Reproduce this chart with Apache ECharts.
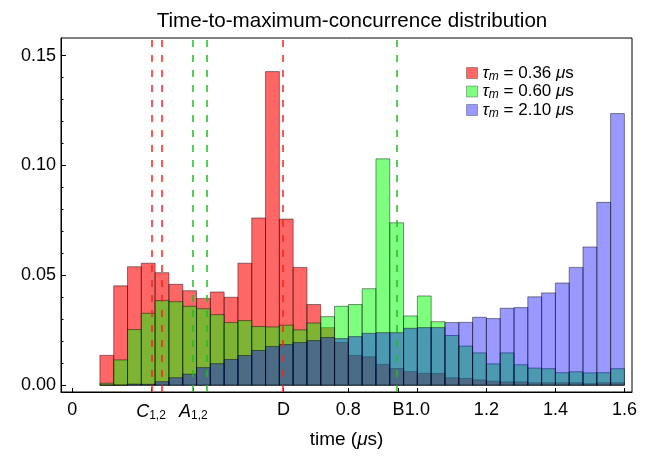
<!DOCTYPE html>
<html>
<head>
<meta charset="utf-8">
<script src="https://cdn.jsdelivr.net/npm/echarts@6/dist/echarts.min.js"></script>
<style>html,body{margin:0;padding:0;background:#fff}#c{width:657px;height:456px}</style>
</head>
<body>
<div id="c"></div>
<script>
// Histogram bin edges (time, μs)
const binEdges = [0.08,0.12,0.16,0.20,0.24,0.28,0.32,0.36,0.40,0.44,0.48,0.52,0.56,0.60,0.64,0.68,0.72,0.76,0.80,0.84,0.88,0.92,0.96,1.00,1.04,1.08,1.12,1.16,1.20,1.24,1.28,1.32,1.36,1.40,1.44,1.48,1.52,1.56,1.60];
// Series values (fraction per bin)
const red036 = [0.0136,0.0452,0.0539,0.0555,0.0512,0.0459,0.0430,0.0395,0.0424,0.0400,0.0555,0.0761,0.1427,0.0756,0.0536,0.0367,0.0262,0.0194,0.0135,0.0129,0.0095,0.0076,0.0062,0.0054,0.0053,0.0034,0.0031,0.0024,0.0018,0.0015,0.0015,0.0011,0.0011,0.0011,0.0011,0.0007,0.0011,0.0011];
const green060 = [0.0009,0.0115,0.0253,0.0327,0.0385,0.0380,0.0359,0.0348,0.0321,0.0285,0.0294,0.0267,0.0265,0.0273,0.0252,0.0283,0.0312,0.0359,0.0367,0.0439,0.1030,0.0739,0.0315,0.0406,0.0289,0.0226,0.0178,0.0147,0.0097,0.0147,0.0093,0.0078,0.0075,0.0057,0.0061,0.0056,0.0057,0.0075];
const blue210 = [0,0,0.0005,0.0004,0.0016,0.0034,0.0050,0.0080,0.0098,0.0117,0.0135,0.0158,0.0176,0.0185,0.0194,0.0203,0.0217,0.0212,0.0221,0.0236,0.0239,0.0239,0.0259,0.0262,0.0262,0.0285,0.0286,0.0309,0.0303,0.0350,0.0353,0.0402,0.0420,0.0465,0.0536,0.0629,0.0832,0.1236];
const seriesNames = ['τm = 0.36 μs','τm = 0.60 μs','τm = 2.10 μs'];
const legendRich = ['{it|τ}{sub|m} = 0.36 {it|μ}s','{it|τ}{sub|m} = 0.60 {it|μ}s','{it|τ}{sub|m} = 2.10 {it|μ}s'];
// x tick positions and labels
const xTickValues = [0, 0.228, 0.351, 0.612, 0.8, 0.945, 1.0, 1.2, 1.4, 1.6];
const xTickLabels = ['0', '{it|C}{sub|1,2}', '{it|A}{sub|1,2}', 'D', '0.8', 'B', '1.0', '1.2', '1.4', '1.6'];
// y tick labels
const yMajorTicks = [0, 0.05, 0.10, 0.15];
const yMinorTicks = [0.01,0.02,0.03,0.04,0.06,0.07,0.08,0.09,0.11,0.12,0.13,0.14];
// dashed markers
const redMarkers = [0.228, 0.261, 0.612];
const greenMarkers = [0.351, 0.390, 0.945];

const FONT = 'Liberation Sans';
const fills = ['rgba(255,0,0,0.6)','rgba(0,255,0,0.5)','rgba(0,0,255,0.4)'];

function histData(vals){
  return vals.map((v,i)=>[binEdges[i], binEdges[i+1], v]);
}
function renderBar(params, api){
  const x0 = api.value(0), x1 = api.value(1), v = api.value(2);
  const p0 = api.coord([x0, v]);
  const p1 = api.coord([x1, 0]);
  return {
    type:'rect',
    shape:{x:p0[0], y:p0[1], width:p1[0]-p0[0], height:p1[1]-p0[1]},
    style:{fill: fills[params.seriesIndex], stroke:'rgba(0,0,0,0.5)', lineWidth:0.9}
  };
}
const allVals = [red036, green060, blue210];
const series = allVals.map((vals, k) => ({
  name: seriesNames[k],
  type: 'custom',
  renderItem: renderBar,
  itemStyle: {color: fills[k]},
  encode: {x:[0,1], y:2},
  data: histData(vals),
  z: 2 + k
}));
series.push({
  name: 'markers', type: 'line', data: [], silent: true, z: 10,
  markLine: {
    silent: true, symbol: ['none','none'], label:{show:false},
    animation:false,
    data: redMarkers.map(v=>({xAxis:v, lineStyle:{color:'#ff1f1f', type:[7,8], width:1.5}}))
      .concat(greenMarkers.map(v=>({xAxis:v, lineStyle:{color:'#1fbf1f', type:[7,8], width:1.5}})))
  }
});

const chart = echarts.init(document.getElementById('c'), null, {renderer:'canvas'});
chart.setOption({
  animation: false,
  backgroundColor: '#fff',
  textStyle: {fontFamily: FONT},
  title: {
    text: 'Time-to-maximum-concurrence distribution',
    left: 347, top: 6, textAlign: 'center',
    textStyle: {fontFamily: FONT, fontSize: 20.6, fontWeight: 'normal', color:'#000'}
  },
  legend: {
    data: seriesNames,
    orient: 'vertical', left: 466, top: 64, padding: 0,
    itemWidth: 11, itemHeight: 11, itemGap: 0,
    icon: 'rect',
    itemStyle: {borderColor:'rgba(0,0,0,0.3)', borderWidth:1},
    formatter: name => legendRich[seriesNames.indexOf(name)],
    textStyle: {fontFamily: FONT, fontSize: 17, color:'#000', lineHeight: 18, padding:[0,0,0,0],
      rich: {it:{fontStyle:'italic', fontSize:17, fontFamily:FONT}, sub:{fontStyle:'italic', fontSize:12, fontFamily:FONT, padding:[7,0,0,0]}}}
  },
  grid: {left: 61, right: 25, top: 38, bottom: 64, show: true, borderColor:'#000', borderWidth:1, containLabel:false},
  xAxis: {
    type: 'value', min: -0.0328, max: 1.622,
    splitLine: {show:false},
    axisLine: {show:true, onZero:false, lineStyle:{color:'#000', width:1}},
    axisTick: {show:true, inside:true, length:4, customValues: xTickValues, lineStyle:{color:'#000'}},
    axisLabel: {
      customValues: xTickValues, margin: 9, color:'#000', fontSize: 18, fontFamily: FONT,
      formatter: function(v){
        let best = 0, bd = 1e9;
        xTickValues.forEach((t,i)=>{const d=Math.abs(t-v); if(d<bd){bd=d;best=i;}});
        return xTickLabels[best];
      },
      rich: {it:{fontStyle:'italic', fontSize:18, fontFamily:FONT, color:'#000'}, sub:{fontSize:12, fontFamily:FONT, color:'#000', padding:[9,0,0,0]}}
    },
    name: 'time ({it|μ}s)', nameLocation: 'middle', nameGap: 38,
    nameTextStyle: {fontSize: 19, color:'#000', fontFamily: FONT, rich:{it:{fontStyle:'italic', fontSize:19, fontFamily:FONT, color:'#000'}}}
  },
  yAxis: [{
    type: 'value', min: -0.0031, max: 0.158,
    splitLine: {show:false},
    axisLine: {show:true, onZero:false, lineStyle:{color:'#000', width:1}},
    axisTick: {show:true, inside:true, length:5, customValues: yMajorTicks, lineStyle:{color:'#000'}},
    axisLabel: {customValues: yMajorTicks, margin: 5, color:'#000', fontSize: 18, fontFamily: FONT,
      formatter: v => v.toFixed(2)}
  },{
    type: 'value', min: -0.0031, max: 0.158, position:'left', offset: 0,
    splitLine: {show:false},
    axisLine: {show:false, onZero:false},
    axisTick: {show:true, inside:true, length:2.5, customValues: yMinorTicks, lineStyle:{color:'#000'}},
    axisLabel: {show:false}
  }],
  series: series
});
</script>
</body>
</html>
